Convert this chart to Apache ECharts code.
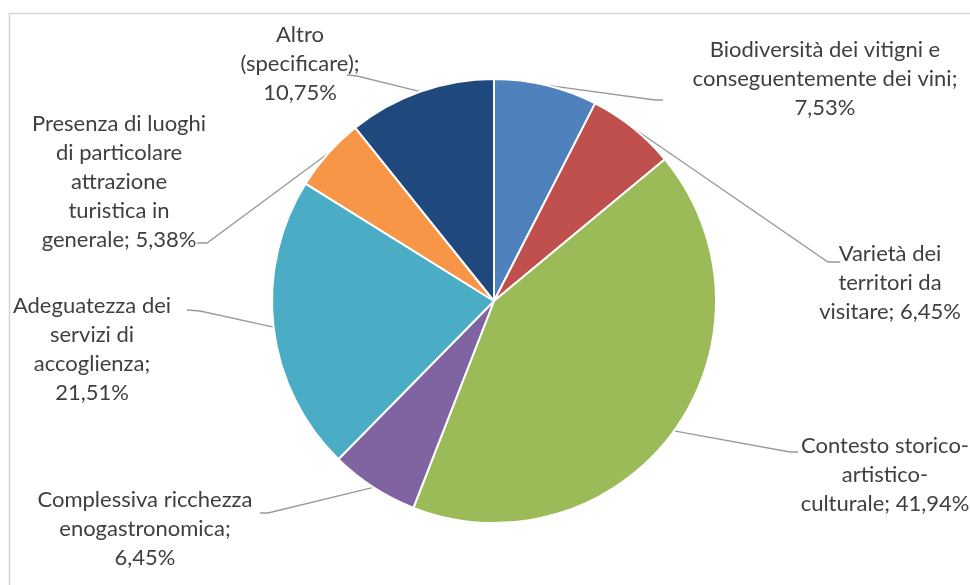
<!DOCTYPE html>
<html>
<head>
<meta charset="utf-8">
<script src="https://cdn.jsdelivr.net/npm/echarts@6/dist/echarts.min.js"></script>
<style>
  html, body { margin: 0; padding: 0; background: #ffffff; }
  #chart { width: 970px; height: 585px; }
</style>
</head>
<body>
<div id="chart"></div>
<script>
// Motivi di scelta della destinazione (quote percentuali)
const categories = [
  'Biodiversità dei vitigni e\nconseguentemente dei vini',
  'Varietà dei\nterritori da\nvisitare',
  'Contesto storico-\nartistico-\nculturale',
  'Complessiva ricchezza\nenogastronomica',
  'Adeguatezza dei\nservizi di\naccoglienza',
  'Presenza di luoghi\ndi particolare\nattrazione\nturistica in\ngenerale',
  'Altro\n(specificare)'
];
const shares = [7.53, 6.45, 41.94, 6.45, 21.51, 5.38, 10.75];
// whether the percentage goes on its own line
const valueOnNewLine = [true, false, false, true, true, false, true];
const sliceColors = ['#4F81BD', '#C0504D', '#9BBB59', '#8064A2', '#4BACC6', '#F79646', '#1F497D'];

// label block centres and leader-line bends/ends (layout only)
const labelCenters = [[825, 79], [890, 283], [885, 475], [145, 529], [92, 349], [119, 182], [300, 64]];
const leaderBends = [[655, 100], [828, 262], [790, 452], [268, 513], [200, 311], [207, 243], [357, 76]];
const leaderEnds  = [[663, 100], [840, 262], [798, 452], [260, 513], [187, 310], [197, 243], [347, 75]];

const fmtPct = v => v.toFixed(2).replace('.', ',') + '%';

const chart = echarts.init(document.getElementById('chart'), null, { renderer: 'canvas' });

const pieCenter = [494, 301];
const pieRadius = 222;

chart.setOption({
  backgroundColor: '#ffffff',
  animation: false,
  graphic: [{
    type: 'rect',
    z: -10,
    shape: { x: 9.5, y: 13.5, width: 1000, height: 1000 },
    style: { fill: '#ffffff', stroke: '#d4d4d4', lineWidth: 1.5 }
  }],
  series: [{
    type: 'pie',
    center: pieCenter,
    radius: pieRadius,
    startAngle: 90,
    clockwise: true,
    avoidLabelOverlap: false,
    itemStyle: { borderColor: '#ffffff', borderWidth: 2 },
    label: {
      show: true,
      formatter: p => p.name + ';' + (valueOnNewLine[p.dataIndex] ? '\n' : ' ') + fmtPct(p.value),
      fontFamily: 'Lato, "Liberation Sans", sans-serif',
      fontSize: 22,
      lineHeight: 29,
      color: '#3f3f3f',
      align: 'center'
    },
    labelLine: {
      show: true,
      length: 20,
      length2: 10,
      smooth: false,
      lineStyle: { color: '#9a9a9a', width: 1.3 }
    },
    labelLayout: function (params) {
      const i = params.dataIndex;
      let start;
      if (params.labelLinePoints && params.labelLinePoints[0]) {
        start = params.labelLinePoints[0];
      } else {
        // mid-angle point on the rim, from cumulative shares
        const total = shares.reduce((a, b) => a + b, 0);
        let before = 0;
        for (let k = 0; k < i; k++) before += shares[k];
        const ang = (before + shares[i] / 2) / total * 2 * Math.PI;
        start = [pieCenter[0] + pieRadius * Math.sin(ang), pieCenter[1] - pieRadius * Math.cos(ang)];
      }
      return {
        x: labelCenters[i][0],
        y: labelCenters[i][1],
        align: 'center',
        verticalAlign: 'middle',
        labelLinePoints: [start, leaderBends[i], leaderEnds[i]]
      };
    },
    emphasis: { disabled: true },
    data: categories.map((name, i) => ({
      name: name,
      value: shares[i],
      itemStyle: { color: sliceColors[i] }
    }))
  }]
});
</script>
</body>
</html>
